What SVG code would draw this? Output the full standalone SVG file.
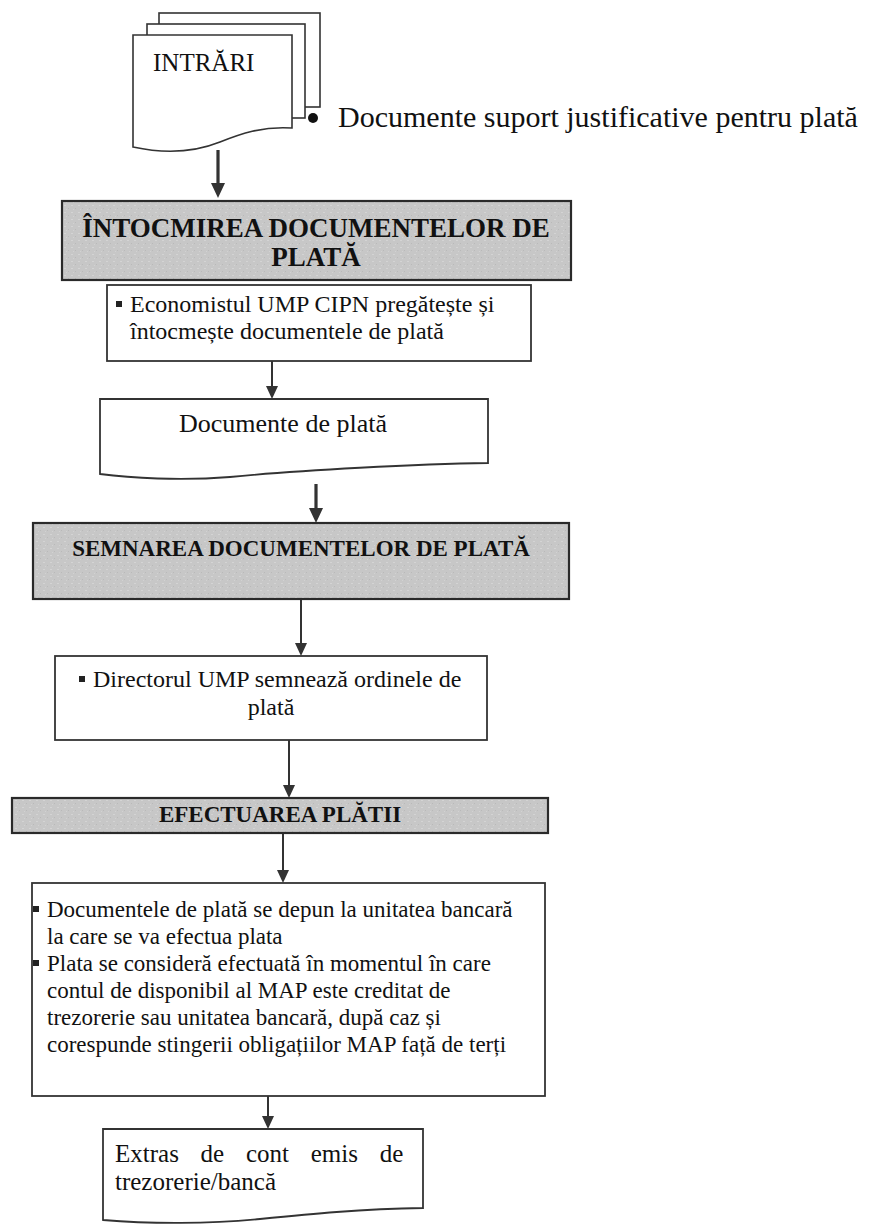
<svg xmlns="http://www.w3.org/2000/svg" width="874" height="1224" viewBox="0 0 874 1224">
<defs>
<style>
.doc{fill:#fff;stroke:#333;stroke-width:1.6}
.box{fill:#fff;stroke:#333;stroke-width:1.8}
.hdr{fill:url(#grain);stroke:#2a2a2a;stroke-width:2.2}
.t{font-family:"Liberation Serif","Times New Roman",serif;fill:#111}
.b{font-weight:bold}
.c{text-anchor:middle}
.thick{stroke:#333;stroke-width:3.2;fill:none}
.thin{stroke:#333;stroke-width:2;fill:none}
.bul{fill:#222}
</style>
<pattern id="grain" width="7" height="7" patternUnits="userSpaceOnUse">
<rect width="7" height="7" fill="#c7c7c7"/>
<rect x="1" y="2" width="2" height="1" fill="#d4d4d4"/>
<rect x="5" y="5" width="1" height="1" fill="#b9b9b9"/>
<rect x="3" y="6" width="1" height="1" fill="#d2d2d2"/>
</pattern>
<marker id="ah" markerUnits="userSpaceOnUse" markerWidth="16" markerHeight="16" refX="5" refY="7" orient="auto">
<path d="M0,0 L15,7 L0,14 Z" fill="#333"/>
</marker>
<marker id="ah2" markerUnits="userSpaceOnUse" markerWidth="14" markerHeight="14" refX="4" refY="6" orient="auto">
<path d="M0,0 L13,6 L0,12 Z" fill="#333"/>
</marker>
</defs>
<rect width="874" height="1224" fill="#fff"/>

<g id="connectors">
<line class="thick" x1="218" y1="150" x2="218" y2="188" marker-end="url(#ah)"/>
<line class="thin" x1="272" y1="361" x2="272" y2="390" marker-end="url(#ah2)"/>
<line class="thick" x1="316" y1="484" x2="316" y2="513" marker-end="url(#ah)"/>
<line class="thin" x1="301" y1="599" x2="301" y2="647" marker-end="url(#ah2)"/>
<line class="thin" x1="289" y1="740" x2="289" y2="789" marker-end="url(#ah2)"/>
<line class="thin" x1="283" y1="833" x2="283" y2="874" marker-end="url(#ah2)"/>
<line class="thin" x1="268" y1="1096" x2="268" y2="1120" marker-end="url(#ah2)"/>
</g>

<g id="intrari">
<rect class="doc" x="159" y="13" width="161" height="94"/>
<rect class="doc" x="147" y="24" width="158" height="94"/>
<path class="doc" d="M133,35 H292 V128 C262,126 240,134 220,142 C195,152 165,154 133,147 Z"/>
<text class="t" x="153" y="71" font-size="25">INTRĂRI</text>
<circle cx="313" cy="118" r="5" fill="#111"/>
<text class="t" x="338" y="127" font-size="30">Documente suport justificative pentru plată</text>
</g>

<g id="h-intocmire">
<rect class="hdr" x="62" y="201" width="509" height="79"/>
<text class="t b c" x="316" y="237" font-size="27">ÎNTOCMIREA DOCUMENTELOR DE</text>
<text class="t b c" x="316" y="266" font-size="27">PLATĂ</text>
</g>

<g id="n-economist">
<rect class="box" x="107" y="285" width="424" height="76"/>
<rect class="bul" x="116" y="301" width="6" height="6"/>
<text class="t" x="130" y="312" font-size="24">Economistul UMP CIPN pregătește și</text>
<text class="t" x="130" y="339" font-size="24">întocmește documentele de plată</text>
</g>

<g id="n-docplata">
<path class="box" d="M100,399 H488 V463 C420,464 300,470 230,477 C180,481 130,478 100,474 Z"/>
<text class="t c" x="283" y="432" font-size="26">Documente de plată</text>
</g>

<g id="h-semnare">
<rect class="hdr" x="33" y="523" width="536" height="76"/>
<text class="t b c" x="301" y="556" font-size="23">SEMNAREA DOCUMENTELOR DE PLATĂ</text>
</g>

<g id="n-director">
<rect class="box" x="55" y="656" width="432" height="84"/>
<rect class="bul" x="79" y="676" width="6" height="6"/>
<text class="t" x="93" y="687" font-size="24">Directorul UMP semnează ordinele de</text>
<text class="t c" x="271" y="715" font-size="24">plată</text>
</g>

<g id="h-efectuare">
<rect class="hdr" x="12" y="798" width="536" height="35"/>
<text class="t b c" x="280" y="822" font-size="23">EFECTUAREA PLĂTII</text>
</g>

<g id="n-depunere">
<rect class="box" x="32" y="883" width="513" height="213"/>
<rect class="bul" x="33" y="906" width="6" height="6"/>
<text class="t" x="47" y="917" font-size="23">Documentele de plată se depun la unitatea bancară</text>
<text class="t" x="47" y="944" font-size="23">la care se va efectua plata</text>
<rect class="bul" x="33" y="960" width="6" height="6"/>
<text class="t" x="47" y="971" font-size="23">Plata se consideră efectuată în momentul în care</text>
<text class="t" x="47" y="998" font-size="23">contul de disponibil al MAP este creditat de</text>
<text class="t" x="47" y="1025" font-size="23">trezorerie sau unitatea bancară, după caz și</text>
<text class="t" x="47" y="1052" font-size="23">corespunde stingerii obligațiilor MAP față de terți</text>
</g>

<g id="n-extras">
<path class="box" d="M103,1129 H423 V1208 C360,1209 310,1214 260,1219 C210,1224 150,1224 103,1220 Z"/>
<text class="t" x="115" y="1162" font-size="25" word-spacing="15.5">Extras de cont emis de</text>
<text class="t" x="115" y="1190" font-size="25">trezorerie/bancă</text>
</g>
</svg>
